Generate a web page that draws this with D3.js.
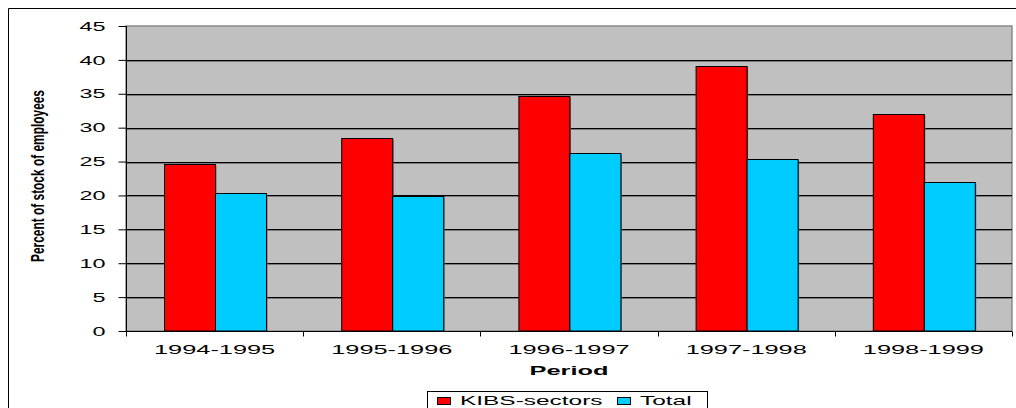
<!DOCTYPE html>
<html>
<head>
<meta charset="utf-8">
<script src="https://cdn.jsdelivr.net/npm/d3@7"></script>
<style>
  html, body { margin: 0; padding: 0; background: #fff; }
  svg { display: block; }
  text { font-family: "Liberation Sans", Arial, sans-serif; fill: #000; }
</style>
</head>
<body>
<svg id="chart" width="1016" height="408"></svg>
<script>
// Labour turnover by period
const periods = ["1994-1995", "1995-1996", "1996-1997", "1997-1998", "1998-1999"];
const seriesNames = ["KIBS-sectors", "Total"];
const kibsValues = [24.7, 28.5, 34.7, 39.1, 32.0];
const totalValues = [20.3, 19.9, 26.2, 25.4, 22.0];
const yTicks = [0, 5, 10, 15, 20, 25, 30, 35, 40, 45];
const yTitle = "Percent of stock of employees";
const xTitle = "Period";

const colors = { "KIBS-sectors": "#ff0000", "Total": "#00ccff" };
const stretch = 1.95; // wide lettering used throughout

const svg = d3.select("#chart");
const plot = { left: 126, right: 1012, top: 26, bottom: 331 };

// Outer frame
svg.append("path")
  .attr("d", "M8.5,408 V8.5 H1016")
  .attr("fill", "none").attr("stroke", "#000").attr("stroke-width", 1);

const x0 = d3.scaleBand().domain(periods).range([plot.left, plot.right]).paddingInner(0).paddingOuter(0);
const x1 = d3.scaleBand().domain(seriesNames).range([0, x0.bandwidth()]).paddingInner(0).paddingOuter(0.737);
const y = d3.scaleLinear().domain([0, 45]).range([plot.bottom, plot.top]);

// Plot background
svg.append("rect")
  .attr("x", plot.left).attr("y", plot.top)
  .attr("width", plot.right - plot.left).attr("height", plot.bottom - plot.top)
  .attr("fill", "#c0c0c0").attr("stroke", "#8a8a8a").attr("stroke-width", 1.5);

// Gridlines with a soft shadow
const grid = svg.append("g");
yTicks.filter(d => d > 0 && d < 45).forEach(d => {
  const yy = Math.round(y(d));
  grid.append("line").attr("x1", plot.left).attr("x2", plot.right)
    .attr("y1", yy + 1.5).attr("y2", yy + 1.5).attr("stroke", "#7a7a7a").attr("stroke-width", 1);
  grid.append("line").attr("x1", plot.left).attr("x2", plot.right)
    .attr("y1", yy + 0.5).attr("y2", yy + 0.5).attr("stroke", "#000").attr("stroke-width", 1);
});

// Bars
const rows = periods.map((p, i) => ({ period: p, values: [
  { key: "KIBS-sectors", value: kibsValues[i] },
  { key: "Total", value: totalValues[i] }
]}));

const groups = svg.append("g").selectAll("g").data(rows).join("g")
  .attr("transform", d => `translate(${x0(d.period)},0)`);

// shadow
groups.selectAll("rect.shadow").data(d => d.values).join("rect")
  .attr("class", "shadow")
  .attr("x", d => Math.round(x1(d.key)) + 1.5)
  .attr("y", d => Math.round(y(d.value)) + 1.5)
  .attr("width", x1.bandwidth())
  .attr("height", d => y(0) - Math.round(y(d.value)) - 1.5)
  .attr("fill", "#6e6e6e");

groups.selectAll("rect.bar").data(d => d.values).join("rect")
  .attr("class", "bar")
  .attr("x", d => Math.round(x1(d.key)) + 0.5)
  .attr("y", d => Math.round(y(d.value)) + 0.5)
  .attr("width", x1.bandwidth())
  .attr("height", d => y(0) - Math.round(y(d.value)) - 0.5)
  .attr("fill", d => colors[d.key])
  .attr("stroke", "#000").attr("stroke-width", 1);

// Y axis
const yAxis = svg.append("g").attr("transform", `translate(${plot.left + 0.5},0)`)
  .call(d3.axisLeft(y).tickValues(yTicks).tickSize(8).tickPadding(0).tickFormat(d3.format("d")));
yAxis.select(".domain").attr("stroke", "#000").attr("d", `M0,${plot.top}V${plot.bottom}`);
yAxis.selectAll(".tick line").attr("stroke", "#000");
yAxis.selectAll(".tick text")
  .attr("x", null).attr("dy", null)
  .attr("text-anchor", "end")
  .attr("dominant-baseline", "central")
  .style("font-size", "12px")
  .attr("fill", "#000")
  .attr("transform", `translate(-21,0) scale(${stretch},1)`);

// X axis
const xAxis = svg.append("g").attr("transform", `translate(0,${plot.bottom + 0.5})`)
  .call(d3.axisBottom(x0).tickSize(0).tickPadding(0));
xAxis.select(".domain").attr("stroke", "#000").attr("d", `M${plot.left},0H${plot.right}`);
xAxis.selectAll(".tick text")
  .attr("y", null).attr("dy", null)
  .style("font-size", "13px")
  .attr("fill", "#000")
  .attr("text-anchor", "middle")
  .attr("transform", `translate(0,22) scale(${stretch},1)`);
// boundary ticks between categories
const bounds = periods.map(p => x0(p)).concat([plot.right]);
xAxis.selectAll("line.bound").data(bounds).join("line")
  .attr("class", "bound")
  .attr("x1", d => Math.round(d) + 0.5).attr("x2", d => Math.round(d) + 0.5)
  .attr("y1", 0).attr("y2", 5).attr("stroke", "#000");

// Axis titles (squeezed lengthwise)
svg.append("text")
  .attr("transform", "translate(44,176) rotate(-90)")
  .attr("text-anchor", "middle")
  .attr("textLength", 172).attr("lengthAdjust", "spacingAndGlyphs")
  .style("font-size", "18px").style("font-weight", "bold")
  .text(yTitle);

svg.append("text")
  .attr("transform", `translate(${(plot.left + plot.right) / 2},375) scale(${stretch},1)`)
  .attr("text-anchor", "middle")
  .style("font-size", "13px").style("font-weight", "bold")
  .text(xTitle);

// Legend
const legend = svg.append("g");
legend.append("rect").attr("x", 427.5).attr("y", 391.5).attr("width", 280).attr("height", 30)
  .attr("fill", "#fff").attr("stroke", "#000").attr("stroke-width", 1);
const legendItems = [
  { key: "KIBS-sectors", sx: 437, tx: 460 },
  { key: "Total", sx: 617, tx: 640 }
];
legendItems.forEach(it => {
  legend.append("rect").attr("x", it.sx + 0.5).attr("y", 397.5).attr("width", 13).attr("height", 7)
    .attr("fill", colors[it.key]).attr("stroke", "#000").attr("stroke-width", 1);
  legend.append("text")
    .attr("transform", `translate(${it.tx},405) scale(1.88,1)`)
    .style("font-size", "13px")
    .text(it.key);
});
</script>
</body>
</html>
